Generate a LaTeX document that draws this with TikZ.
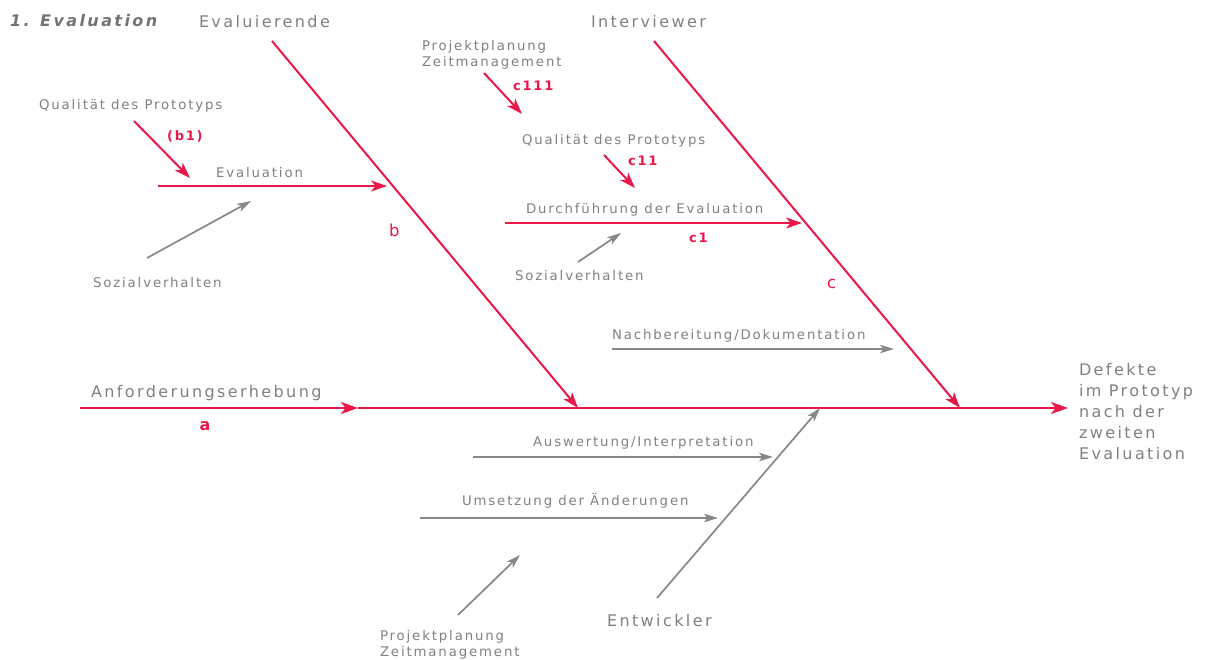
\documentclass[tikz,border=0pt]{standalone}
\usepackage{fontspec}
\setmainfont{DejaVu Sans}
\newfontfamily\bigfont[LetterSpace=15]{DejaVu Sans}
\newfontfamily\smallfont[LetterSpace=14]{DejaVu Sans}
\usetikzlibrary{arrows.meta}
\definecolor{fbred}{RGB}{232,24,72}
\definecolor{fbgray}{RGB}{128,128,128}
\definecolor{fbline}{RGB}{135,135,135}
\begin{document}
\begin{tikzpicture}[x=1pt,y=-1pt,
  every node/.style={inner sep=0pt, outer sep=0pt, anchor=base west},
  big/.style={font=\bigfont\fontsize{16}{21}\selectfont, text=fbgray},
  small/.style={font=\smallfont\fontsize{13.3}{16.5}\selectfont, text=fbgray},
  titlef/.style={font=\bigfont\bfseries\itshape\fontsize{16}{18}\selectfont, text=fbgray!90!black},
  redlab/.style={font=\smallfont\bfseries\fontsize{13}{15}\selectfont, text=fbred},
  redbig/.style={font=\bigfont\fontsize{16.5}{19}\selectfont, text=fbred},
  redarrow/.style={draw=fbred, line width=2pt, -{Stealth[length=16pt,width=11pt,inset=4.5pt]}},
  spine/.style={draw=fbred, line width=2.4pt, -{Stealth[length=17pt,width=12pt,inset=4.5pt]}},
  grayarrow/.style={draw=fbline, line width=1.7pt, -{Stealth[length=14pt,width=8.5pt,inset=3.5pt]}},
]
\useasboundingbox (0,0) rectangle (1206,659);

% ---------- texts ----------
\node[titlef] (title) at (10,26) {1. Evaluation};
\node[big] (evaluierende) at (199,27) {Evaluierende};
\node[big] (interviewer) at (591,27) {Interviewer};
\node[small] (qual1) at (39,109) {Qualität des Prototyps};
\node[redlab] (b1) at (167,140) {(b1)};
\node[small] (evaltxt) at (216,177) {Evaluation};
\node[redbig] (blab) at (389,236) {b};
\node[small] (sozial1) at (93,287) {Sozialverhalten};
\node[small, anchor=north west, align=left] (proj1) at (422,40) {Projektplanung\\Zeitmanagement};
\node[redlab] (c111) at (513,90) {c111};
\node[small] (qual2) at (522,144) {Qualität des Prototyps};
\node[redlab] (c11) at (628,165) {c11};
\node[small] (durch) at (526,213) {Durchführung der Evaluation};
\node[redlab] (c1) at (689,242) {c1};
\node[small] (sozial2) at (515,280) {Sozialverhalten};
\node[redbig] (clab) at (827,288) {c};
\node[small] (nach) at (612,339) {Nachbereitung/Dokumentation};
\node[big] (anf) at (91,397) {Anforderungserhebung};
\node[redbig, font=\bigfont\bfseries\fontsize{16}{19}\selectfont, anchor=base] (alab) at (205,430) {a};
\node[big, anchor=north west, align=left] (defekte) at (1079,363) {Defekte\\im Prototyp\\nach der\\zweiten\\Evaluation};
\node[small] (ausw) at (533,446) {Auswertung/Interpretation};
\node[small] (umsetz) at (462,505) {Umsetzung der Änderungen};
\node[big] (entw) at (607,626) {Entwickler};
\node[small, anchor=north west, align=left] (proj2) at (380,630) {Projektplanung\\Zeitmanagement};

% ---------- coordinates ----------
\coordinate (s0) at (80,408);
\coordinate (s1) at (358,408);
\coordinate (s2) at (1068,408);
\coordinate (e0) at (272,41);
\coordinate (e1) at (578,408);
\coordinate (i0) at (654,41);
\coordinate (i1) at (960,408);
\coordinate (ev0) at (158,186);
\coordinate (ev1) at (387,186);
\coordinate (q10) at (134,121);
\coordinate (q11) at (190,178);
\coordinate (so10) at (147,258);
\coordinate (so11) at (251,201);
\coordinate (p10) at (484,73);
\coordinate (p11) at (522,114);
\coordinate (q20) at (604,155);
\coordinate (q21) at (635,188);
\coordinate (d0) at (505,223);
\coordinate (d1) at (802,223);
\coordinate (so20) at (578,262);
\coordinate (so21) at (621,233);
\coordinate (n0) at (612,349);
\coordinate (n1) at (894,349);
\coordinate (a0) at (473,457);
\coordinate (a1) at (773,457);
\coordinate (u0) at (420,518);
\coordinate (u1) at (718,518);
\coordinate (en0) at (657,598);
\coordinate (en1) at (820,408);
\coordinate (p20) at (458,615);
\coordinate (p21) at (520,555);

% ---------- red connectors ----------
\draw[spine] (s0) -- (s1);
\draw[spine] (s1) -- (s2);
\draw[redarrow] (e0) -- (e1);
\draw[redarrow] (i0) -- (i1);
\draw[redarrow] (ev0) -- (ev1);
\draw[redarrow] (q10) -- (q11);
\draw[redarrow] (p10) -- (p11);
\draw[redarrow] (q20) -- (q21);
\draw[redarrow] (d0) -- (d1);

% ---------- gray connectors ----------
\draw[grayarrow] (so10) -- (so11);
\draw[grayarrow] (so20) -- (so21);
\draw[grayarrow] (n0) -- (n1);
\draw[grayarrow] (a0) -- (a1);
\draw[grayarrow] (u0) -- (u1);
\draw[grayarrow] (en0) -- (en1);
\draw[grayarrow] (p20) -- (p21);
\end{tikzpicture}
\end{document}
